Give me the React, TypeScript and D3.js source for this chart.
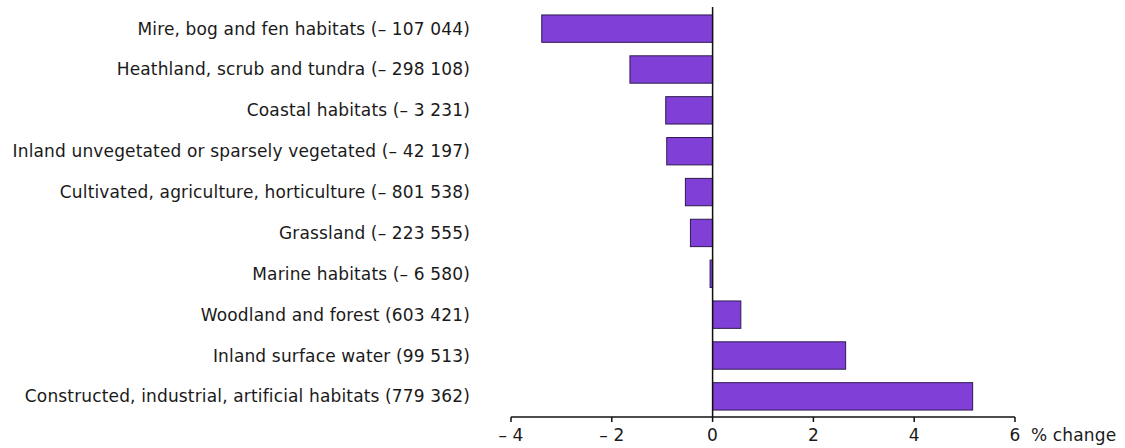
import React from "react";
import * as d3 from "d3";

const categories = [
  "Mire, bog and fen habitats (– 107 044)",
  "Heathland, scrub and tundra (– 298 108)",
  "Coastal habitats (– 3 231)",
  "Inland unvegetated or sparsely vegetated (– 42 197)",
  "Cultivated, agriculture, horticulture (– 801 538)",
  "Grassland (– 223 555)",
  "Marine habitats (– 6 580)",
  "Woodland and forest (603 421)",
  "Inland surface water (99 513)",
  "Constructed, industrial, artificial habitats (779 362)",
];
const values = [-3.39, -1.64, -0.93, -0.91, -0.54, -0.44, -0.05, 0.56, 2.64, 5.16];
const tickValues = [-4, -2, 0, 2, 4, 6];
const axisTitle = "% change";

const W = 1125;
const H = 448;
const FONT = "'DejaVu Sans', Verdana, sans-serif";

export default function App() {
  const x = d3.scaleLinear().domain([-4, 6]).range([511, 1015]);
  const y = d3
    .scaleBand<string>()
    .domain(categories)
    .range([8, 417])
    .paddingInner(0.33)
    .paddingOuter(0.17);
  const axisY = 417;
  const fmt = (v: number) => (v < 0 ? `– ${Math.abs(v)}` : `${v}`);
  return (
    <svg
      width={W}
      height={H}
      style={{ position: "absolute", left: 0, top: 0, background: "#fff" }}
      fontFamily={FONT}
    >
      {categories.map((c, i) => {
        const v = values[i];
        const x0 = x(Math.min(0, v));
        const x1 = x(Math.max(0, v));
        return (
          <g key={c}>
            <rect
              x={x0}
              y={y(c)!}
              width={x1 - x0}
              height={y.bandwidth()}
              fill="#8040D8"
              stroke="#2E1A50"
              strokeWidth={1}
            />
            <text
              x={470}
              y={y(c)! + y.bandwidth() / 2}
              textAnchor="end"
              dominantBaseline="central"
              fontSize={17}
              letterSpacing={0.15}
              fill="#1a1a1a"
            >
              {c}
            </text>
          </g>
        );
      })}
      <line x1={x(0)} x2={x(0)} y1={7} y2={axisY} stroke="#111" strokeWidth={1.5} />
      <line x1={x(-4)} x2={x(6)} y1={axisY} y2={axisY} stroke="#111" strokeWidth={1.5} />
      {tickValues.map((t) => (
        <g key={t}>
          <line x1={x(t)} x2={x(t)} y1={axisY} y2={axisY + 5} stroke="#111" strokeWidth={1.5} />
          <text
            x={x(t)}
            y={435}
            textAnchor="middle"
            dominantBaseline="central"
            fontSize={17}
            letterSpacing={0.15}
            fill="#1a1a1a"
          >
            {fmt(t)}
          </text>
        </g>
      ))}
      <text
        x={1031}
        y={435}
        dominantBaseline="central"
        fontSize={17}
        letterSpacing={0.15}
        fill="#1a1a1a"
      >
        {axisTitle}
      </text>
    </svg>
  );
}
